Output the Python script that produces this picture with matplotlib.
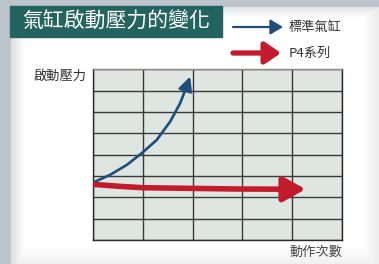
import numpy as np
import matplotlib.pyplot as plt
from matplotlib.patches import Rectangle

plt.rcParams['font.family'] = ['Noto Sans CJK TC', 'DejaVu Sans']

# data (grid units: x 0-5 columns, y 0-8 rows)
title = '氣缸啟動壓力的變化'
series_names = ['標準氣缸', 'P4系列']
ylabel = '啟動壓力'
xlabel = '動作次數'
std_x = [0.01, 0.34, 0.68, 1.0, 1.28, 1.55, 1.75, 1.88, 1.95]
std_y = [2.70, 3.05, 3.52, 4.11, 4.69, 5.55, 6.41, 7.19, 7.66]
p4_x = [0.0, 0.5, 1.0, 1.95, 2.9, 3.89, 4.27]
p4_y = [2.61, 2.52, 2.45, 2.42, 2.39, 2.38, 2.38]

W, H = 379, 264
fig = plt.figure(figsize=(W / 100, H / 100), dpi=100)

# page background with panel shadow
bg = np.ones((H, W, 3))
xs = np.arange(W)[None, :]
ys = np.arange(H)[:, None]
shade = np.zeros((H, W))
shade = np.maximum(shade, np.clip(1 - (xs - 11) / 14.0, 0, 1) * 0.12)
shade = np.maximum(shade, np.clip(1 - (ys - 7) / 10.0, 0, 1) * 0.10)
shade = np.maximum(shade, np.clip((xs - 362) / 17.0, 0, 1) * 0.08)
shade = np.maximum(shade, np.clip((ys - 246) / 18.0, 0, 1) * 0.06)
bg = bg * (1 - shade[..., None])
gray = np.array([0.74, 0.77, 0.80])
bg[:, :11] = gray
bg[:7, :] = gray
bax = fig.add_axes([0, 0, 1, 1])
bax.imshow(bg, extent=[0, W, H, 0], aspect='auto')
bax.set_xlim(0, W)
bax.set_ylim(H, 0)
bax.axis('off')

# title box
bax.add_patch(Rectangle((10, 6), 212, 31, color='#246460'))
bax.text(22, 21.5, title, color='white', fontsize=15, va='center', ha='left')

# legend
red = '#c21b2d'
blue = '#1d4f7a'
bax.annotate('', xy=(283, 27), xytext=(233, 27),
             arrowprops=dict(arrowstyle='-|>,head_length=0.75,head_width=0.45',
                             mutation_scale=10, color=blue, lw=1.6,
                             shrinkA=0, shrinkB=0))
bax.annotate('', xy=(281, 53), xytext=(233, 53),
             arrowprops=dict(arrowstyle='-|>,head_length=0.95,head_width=0.65',
                             mutation_scale=10, color=red, lw=3.8,
                             shrinkA=0, shrinkB=0))
bax.text(289, 27.5, series_names[0], fontsize=9.5, color='#333333', va='center')
bax.text(289, 53.5, series_names[1], fontsize=9.5, color='#333333', va='center')
bax.text(87, 76, ylabel, fontsize=9.5, color='#333333', va='center', ha='right')
bax.text(342, 252, xlabel, fontsize=9.5, color='#444444', va='center', ha='right')

# chart
ax = fig.add_axes([93 / W, (H - 240) / H, 249 / W, 170.7 / H])
ax.set_facecolor('#dfe5e1')
ax.set_xlim(0, 5)
ax.set_ylim(0, 8)
ax.set_xticks(range(6))
ax.set_yticks(range(9))
ax.grid(True, color='#3a3a3a', lw=1.0)
ax.tick_params(length=0, labelbottom=False, labelleft=False)
for s in ax.spines.values():
    s.set_color('#2a2a2a')
    s.set_linewidth(1.0)
ax.spines['top'].set_color('#8a8a8a')

ax.plot(std_x[:-1], std_y[:-1], color=blue, lw=1.9, solid_capstyle='round',
        solid_joinstyle='round', zorder=3)
ax.annotate('', xy=(std_x[-1], std_y[-1]), xytext=(std_x[-2], std_y[-2]),
            arrowprops=dict(arrowstyle='-|>,head_length=0.85,head_width=0.42',
                            mutation_scale=10, color=blue, lw=1.9,
                            shrinkA=0, shrinkB=0), zorder=4)
ax.plot(p4_x[:-1], p4_y[:-1], color=red, lw=4.0, solid_capstyle='butt',
        solid_joinstyle='round', zorder=3)
ax.annotate('', xy=(p4_x[-1], p4_y[-1]), xytext=(p4_x[-2], p4_y[-2]),
            arrowprops=dict(arrowstyle='-|>,head_length=1.35,head_width=0.75',
                            mutation_scale=10, color=red, lw=4.0,
                            shrinkA=0, shrinkB=0), zorder=4)

fig.savefig('out.png', dpi=100)
